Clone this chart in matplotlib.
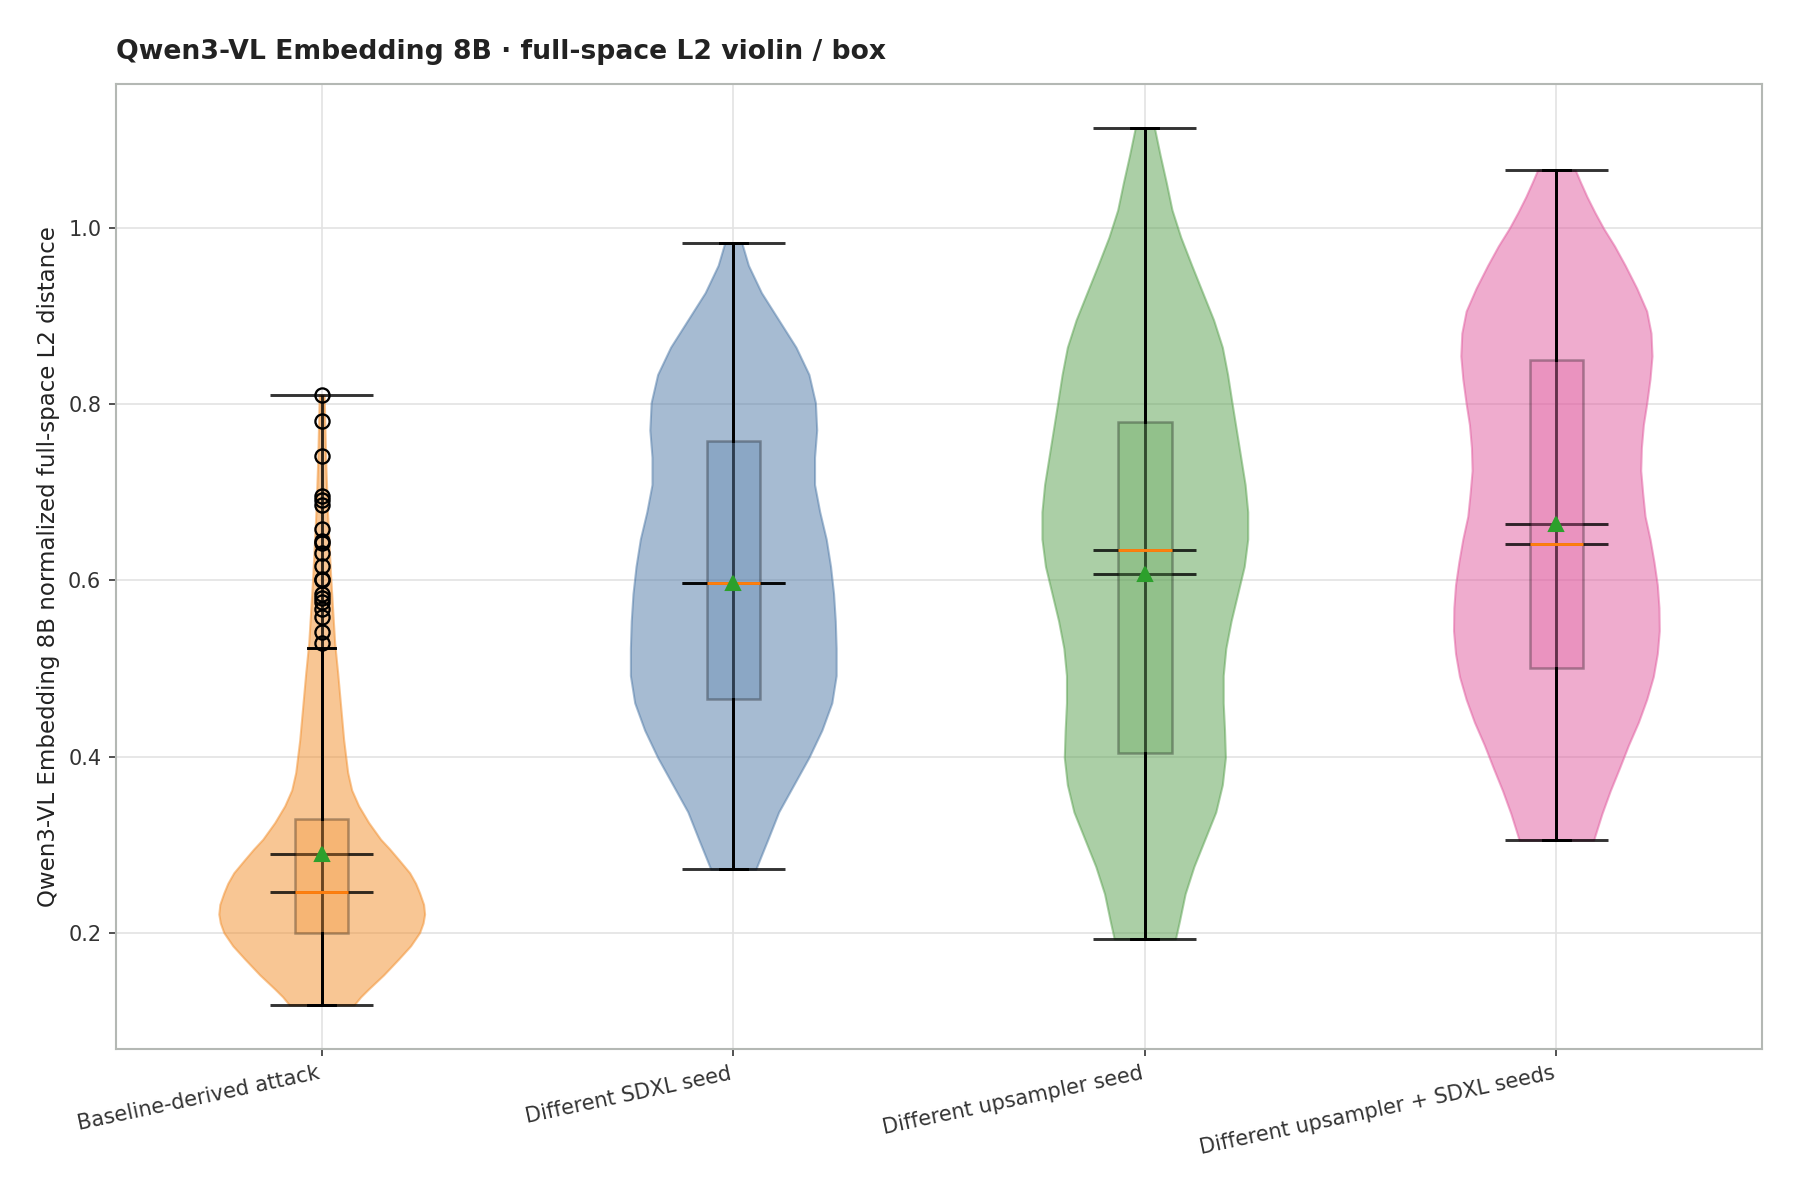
import matplotlib
matplotlib.use("Agg")
import matplotlib.pyplot as plt
import numpy as np

# Group labels and colours
labels = [
    "Baseline-derived attack",
    "Different SDXL seed",
    "Different upsampler seed",
    "Different upsampler + SDXL seeds",
]
colors = ["#f28e2b", "#4e79a7", "#59a14f", "#e15a9e"]

# Summary statistics
mins = [0.118, 0.272, 0.193, 0.305]
maxs = [0.811, 0.983, 1.114, 1.066]
q1s = [0.199, 0.465, 0.404, 0.501]
medians = [0.246, 0.597, 0.635, 0.641]
q3s = [0.329, 0.758, 0.780, 0.850]
means = [0.289, 0.597, 0.607, 0.664]
whis_lo = [0.118, 0.272, 0.193, 0.305]
whis_hi = [0.523, 0.983, 1.114, 1.066]
fliers_1 = [0.529, 0.542, 0.559, 0.568, 0.576, 0.580, 0.585, 0.600, 0.602,
            0.617, 0.631, 0.643, 0.645, 0.658, 0.686, 0.691, 0.696, 0.741,
            0.781, 0.811]

# Violin density profiles (y value, relative half-width)
kde_y_1 = [0.118, 0.127, 0.136, 0.152, 0.170, 0.185, 0.200, 0.211, 0.221,
           0.232, 0.245, 0.256, 0.268, 0.283, 0.295, 0.306, 0.325, 0.344,
           0.362, 0.382, 0.419, 0.457, 0.495, 0.529, 0.566, 0.604, 0.642,
           0.680, 0.736, 0.775, 0.811]
kde_w_1 = [32.5, 39, 47, 62, 77, 89, 98, 101.5, 103, 102, 98, 94, 88, 77,
           68, 59, 47, 37, 30, 26, 22, 19, 16, 13, 11, 9, 7.3, 5.7, 4, 3.2,
           2.5]

kde_y_2 = [0.272, 0.306, 0.337, 0.368, 0.399, 0.430, 0.461, 0.492, 0.523,
           0.554, 0.585, 0.616, 0.647, 0.678, 0.709, 0.740, 0.771, 0.802,
           0.834, 0.865, 0.896, 0.927, 0.958, 0.983]
kde_w_2 = [52, 80, 105, 140, 175, 205, 228, 238, 238, 236, 232, 225, 215,
           200, 188, 188, 193, 190, 175, 145, 105, 65, 35, 20]

kde_y_3 = [0.193, 0.213, 0.244, 0.275, 0.306, 0.337, 0.368, 0.399, 0.430,
           0.461, 0.492, 0.523, 0.554, 0.585, 0.616, 0.647, 0.678, 0.709,
           0.740, 0.771, 0.802, 0.834, 0.865, 0.896, 0.927, 0.958, 0.990,
           1.021, 1.052, 1.083, 1.114]
kde_w_3 = [70, 79, 92, 112, 137, 162, 177, 184, 182, 179, 179, 185, 197,
           212, 227, 235, 235, 229, 219, 209, 199, 189, 177, 157, 132, 107,
           82, 62, 49, 35, 22]

kde_y_4 = [0.305, 0.335, 0.361, 0.387, 0.413, 0.439, 0.465, 0.491, 0.517,
           0.543, 0.569, 0.595, 0.621, 0.647, 0.673, 0.699, 0.725, 0.751,
           0.777, 0.801, 0.829, 0.855, 0.881, 0.906, 0.932, 0.958, 0.980,
           1.000, 1.018, 1.036, 1.052, 1.066]
kde_w_4 = [112, 137, 162, 190, 217, 247, 272, 292, 304, 310, 309, 304, 294,
           282, 267, 260, 254, 256, 262, 272, 282, 288, 285, 272, 242, 207,
           175, 142, 116, 92, 73, 57]

kde_y = [kde_y_1, kde_y_2, kde_y_3, kde_y_4]
kde_w = [kde_w_1, kde_w_2, kde_w_3, kde_w_4]
fliers = [fliers_1, [], [], []]

positions = np.arange(1, len(labels) + 1)

plt.rcParams["font.family"] = "DejaVu Sans"
plt.rcParams["text.color"] = "#222222"
plt.rcParams["axes.labelcolor"] = "#222222"
plt.rcParams["xtick.color"] = "#333333"
plt.rcParams["ytick.color"] = "#333333"

fig, ax = plt.subplots(figsize=(12, 8), dpi=150)
fig.subplots_adjust(left=0.0644, right=0.979, bottom=0.126, top=0.930)

vpstats = []
for i in range(len(labels)):
    vpstats.append({
        "coords": np.array(kde_y[i]),
        "vals": np.array(kde_w[i], dtype=float),
        "mean": means[i],
        "median": medians[i],
        "min": mins[i],
        "max": maxs[i],
    })

parts = ax.violin(vpstats, positions=positions, widths=0.5,
                  showmeans=True, showmedians=True, showextrema=True)
for body, c in zip(parts["bodies"], colors):
    body.set_facecolor(c)
    body.set_edgecolor(c)
    body.set_alpha(0.5)
    body.set_linewidth(1.0)
for key in ["cbars", "cmins", "cmaxes", "cmeans", "cmedians"]:
    parts[key].set_color("black")
    parts[key].set_linewidth(1.4)
    parts[key].set_alpha(0.8)

bxpstats = []
for i in range(len(labels)):
    bxpstats.append({
        "med": medians[i],
        "q1": q1s[i],
        "q3": q3s[i],
        "whislo": whis_lo[i],
        "whishi": whis_hi[i],
        "mean": means[i],
        "fliers": np.array(fliers[i]),
    })

bp = ax.bxp(bxpstats, positions=positions, widths=0.13, patch_artist=True,
            showmeans=True,
            whiskerprops=dict(color="black", linewidth=1.4),
            capprops=dict(color="black", linewidth=1.4),
            medianprops=dict(color="#ff7f0e", linewidth=1.4),
            meanprops=dict(marker="^", markerfacecolor="#2ca02c",
                           markeredgecolor="#2ca02c", markersize=6.5),
            flierprops=dict(marker="o", markerfacecolor="none",
                            markeredgecolor="black", markersize=6.8,
                            markeredgewidth=1.1))
for box, c in zip(bp["boxes"], colors):
    box.set_facecolor(c)
    box.set_edgecolor("black")
    box.set_alpha(0.3)
    box.set_linewidth(1.2)

ax.set_xlim(0.5, 4.5)
ax.set_ylim(0.068, 1.164)
ax.set_yticks([0.2, 0.4, 0.6, 0.8, 1.0])
ax.set_xticks(positions)
ax.set_xticklabels(labels, rotation=12, ha="right", fontsize=10)
ax.tick_params(axis="y", labelsize=10)
ax.grid(True, color="#e3e3e3", linewidth=0.8)
ax.set_axisbelow(True)
for spine in ax.spines.values():
    spine.set_color("#b4b8b4")
    spine.set_linewidth(1.0)

ax.set_ylabel("Qwen3-VL Embedding 8B normalized full-space L2 distance",
              fontsize=11)
ax.set_title("Qwen3-VL Embedding 8B · full-space L2 violin / box",
             loc="left", fontsize=12.8, fontweight="bold", pad=12)

fig.savefig("out.png", dpi=150)
plt.close(fig)
